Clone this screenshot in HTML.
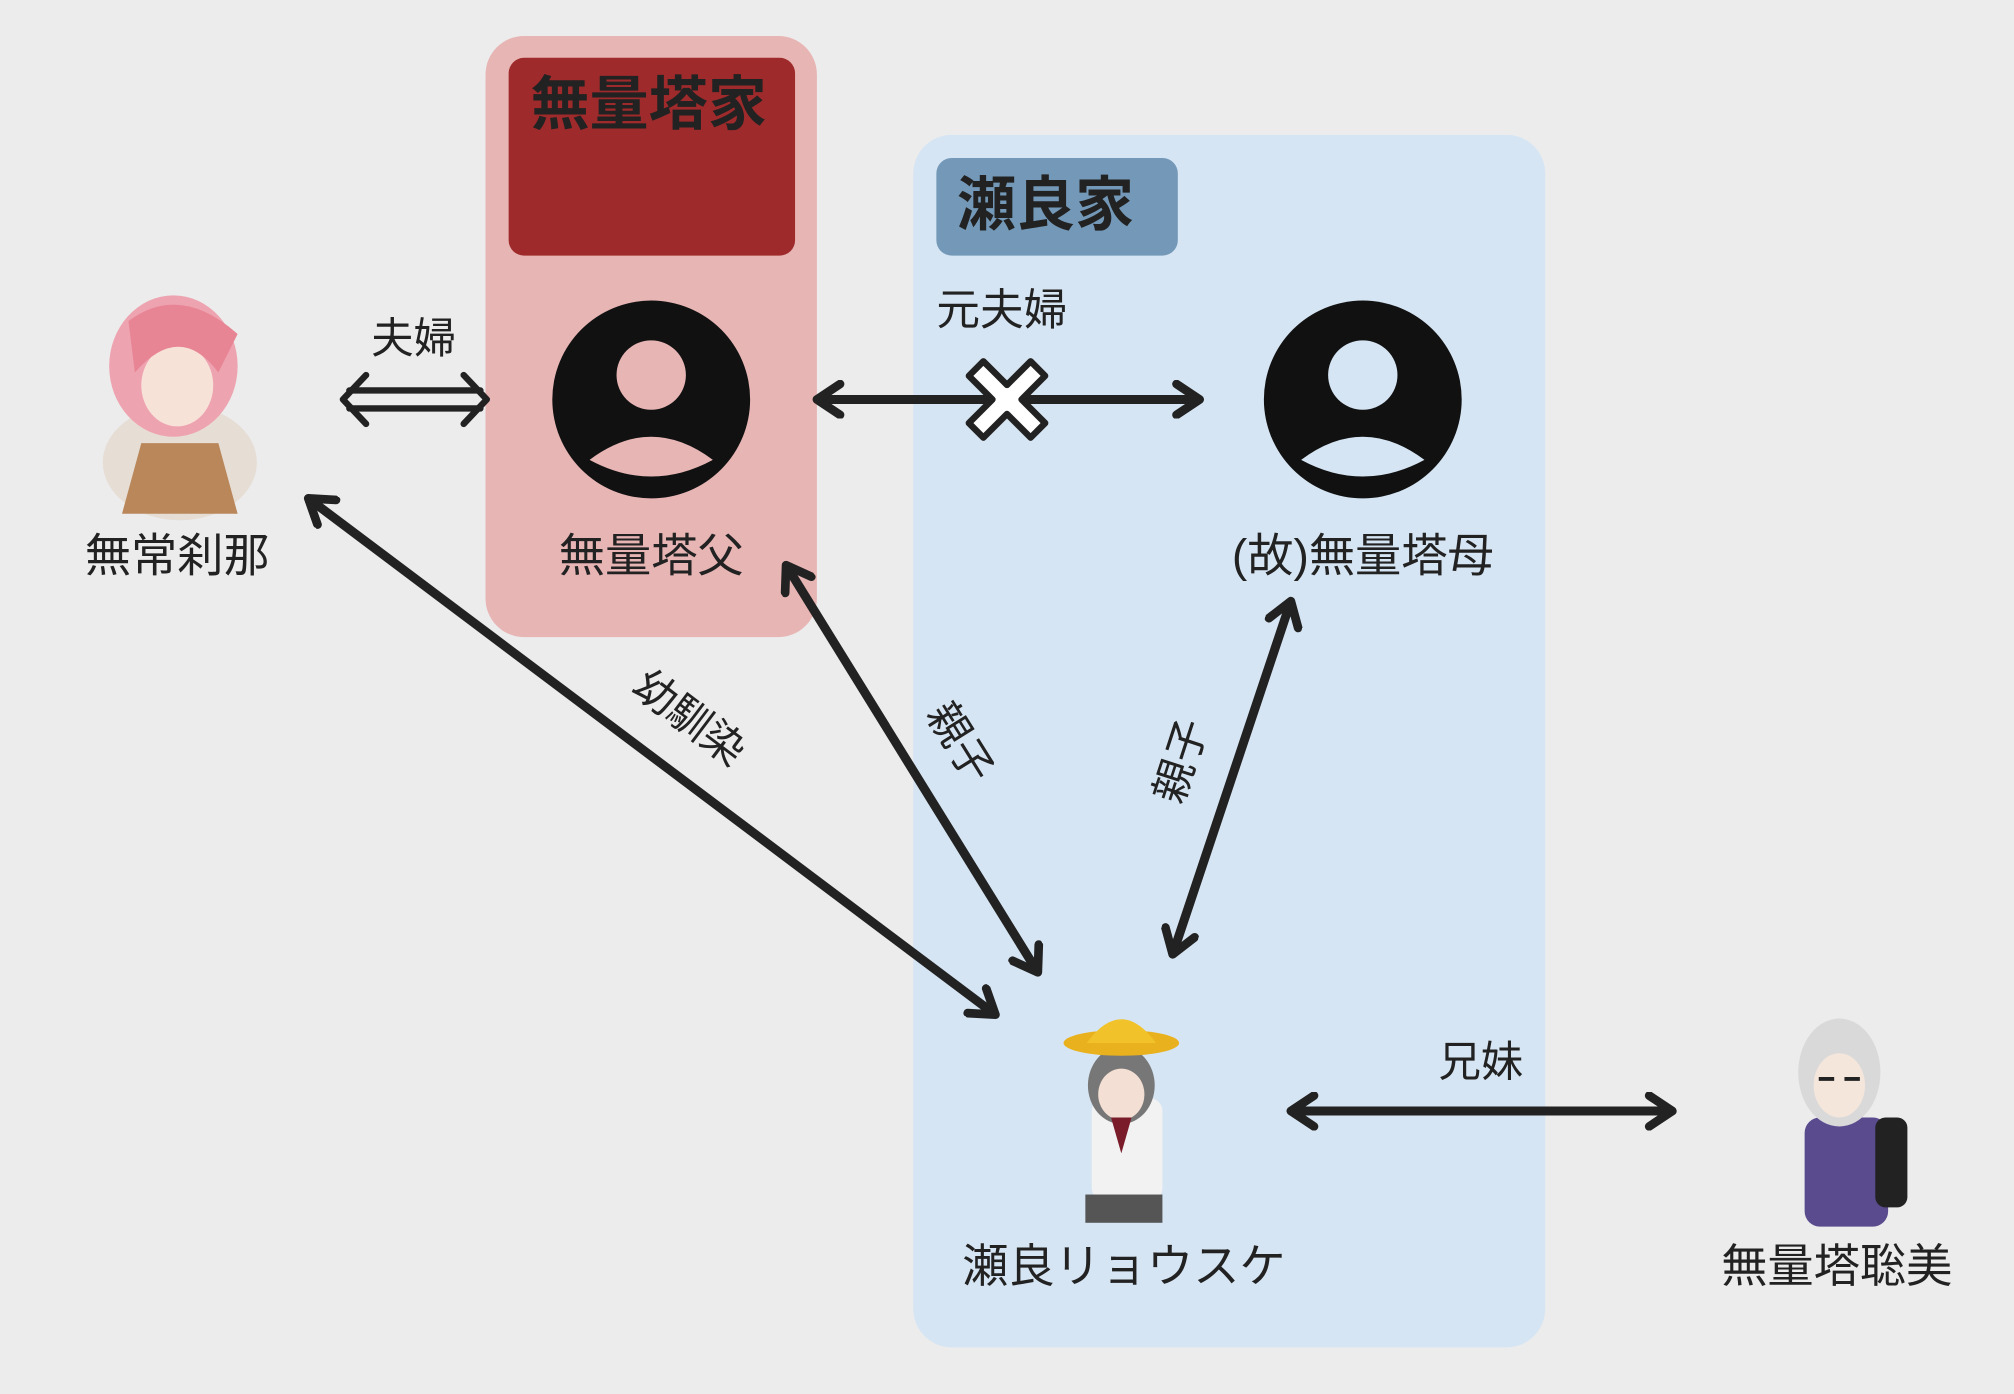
<!DOCTYPE html>
<html><head><meta charset="utf-8"><style>
html,body{margin:0;padding:0;background:#ececec;}
svg{display:block;}
text{font-family:"Liberation Sans","Noto Sans CJK JP",sans-serif;fill:#222;}
</style></head><body>
<svg width="2014" height="1394" viewBox="0 0 1568 1085.3" xmlns="http://www.w3.org/2000/svg">
<defs>
<marker id="ah" viewBox="0 0 20 20" refX="17" refY="10" markerWidth="30" markerHeight="30" markerUnits="userSpaceOnUse" orient="auto-start-reverse">
<path d="M5,2 L17,10 L5,18" fill="none" stroke="#222" stroke-width="4.5" stroke-linecap="round" stroke-linejoin="round"/>
</marker>
</defs>
<rect width="1568" height="1086" fill="#ececec"/>
<rect x="378" y="28" width="258" height="468" rx="30" fill="#e8b5b5"/>
<rect x="396" y="45" width="223" height="154" rx="12" fill="#9e2a2b"/>
<text x="413" y="97" font-size="46" font-weight="bold" fill="#111">無量塔家</text>
<rect x="711" y="105" width="492" height="944" rx="30" fill="#d6e5f3"/>
<rect x="729" y="123" width="188" height="76" rx="12" fill="#7499b8"/>
<text x="745" y="175" font-size="46" font-weight="bold" fill="#111">瀬良家</text>
<circle cx="507" cy="311" r="77" fill="#111"/>
<circle cx="507" cy="292" r="27" fill="#e8b5b5"/>
<path d="M459 358 Q507 322 555 358 Q507 384 459 358 Z" fill="#e8b5b5"/>
<circle cx="1061" cy="311" r="77" fill="#111"/>
<circle cx="1061" cy="292" r="27" fill="#d6e5f3"/>
<path d="M1013 358 Q1061 322 1109 358 Q1061 384 1013 358 Z" fill="#d6e5f3"/>
<g>
<ellipse cx="140" cy="360" rx="60" ry="45" fill="#e6ddd5"/>
<path d="M110 345 L170 345 L185 400 L95 400 Z" fill="#b9875a"/>
<ellipse cx="135" cy="285" rx="50" ry="55" fill="#eea3b0"/>
<ellipse cx="138" cy="300" rx="28" ry="32" fill="#f7e2d8"/>
<path d="M100 250 Q140 220 185 260 L170 290 Q140 250 105 290 Z" fill="#e88595"/>
</g>
<g>
<rect x="850" y="855" width="55" height="80" rx="10" fill="#f2f2f2"/>
<rect x="845" y="930" width="60" height="22" fill="#555"/>
<ellipse cx="873" cy="845" rx="26" ry="30" fill="#777"/>
<ellipse cx="873" cy="852" rx="18" ry="20" fill="#f3dfd3"/>
<ellipse cx="873" cy="812" rx="45" ry="10" fill="#e9b11d"/>
<path d="M846 812 Q873 775 900 812 Z" fill="#f1c22a"/>
<path d="M865 870 L881 870 L873 898 Z" fill="#7a1c2a"/>
</g>
<g>
<rect x="1405" y="870" width="65" height="85" rx="12" fill="#5a4b8f"/>
<rect x="1460" y="870" width="25" height="70" rx="8" fill="#222"/>
<ellipse cx="1432" cy="835" rx="32" ry="42" fill="#d9d9d9"/>
<ellipse cx="1432" cy="845" rx="20" ry="25" fill="#f5e6dc"/>
<path d="M1416 840 h12 M1436 840 h12" stroke="#222" stroke-width="3"/>
</g>
<text x="138" y="445" font-size="36" text-anchor="middle">無常刹那</text>
<text x="507" y="445" font-size="36" text-anchor="middle">無量塔父</text>
<text x="1061" y="445" font-size="36" text-anchor="middle">(故)無量塔母</text>
<text x="875" y="998" font-size="36" text-anchor="middle">瀬良リョウスケ</text>
<text x="1430" y="998" font-size="36" text-anchor="middle">無量塔聡美</text>
<text x="322" y="275" font-size="33" text-anchor="middle">夫婦</text>
<text x="729" y="253" font-size="34">元夫婦</text>
<text x="1153" y="838" font-size="33" text-anchor="middle">兄妹</text>
<text x="0" y="0" font-size="33" text-anchor="middle" transform="translate(530,568) rotate(37)">幼馴染</text>
<text x="0" y="0" font-size="33" text-anchor="middle" transform="translate(738,584) rotate(58)">親子</text>
<text x="0" y="0" font-size="33" text-anchor="middle" transform="translate(930,596) rotate(-72)">親子</text>
<g stroke="#222" stroke-width="5" fill="none" stroke-linecap="round" stroke-linejoin="round">
<line x1="272" y1="304" x2="374" y2="304"/>
<line x1="272" y1="318" x2="374" y2="318"/>
<path d="M285 292 L267 311 L285 330"/>
<path d="M361 292 L379 311 L361 330"/>
</g>
<g stroke="#222" stroke-width="7" fill="none" marker-start="url(#ah)" marker-end="url(#ah)">
<line x1="636" y1="311" x2="934" y2="311"/>
<line x1="240" y1="388" x2="775" y2="790"/>
<line x1="612" y1="440" x2="808" y2="757"/>
<line x1="1005" y1="468" x2="913" y2="743"/>
<line x1="1005" y1="865" x2="1302" y2="865"/>
</g>
<g transform="translate(784,311) rotate(45)">
<path d="M-8,-34 H8 V-8 H34 V8 H8 V34 H-8 V8 H-34 V-8 H-8 Z" fill="#fff" stroke="#222" stroke-width="5" stroke-linejoin="round"/>
</g>
</svg>
</body></html>
